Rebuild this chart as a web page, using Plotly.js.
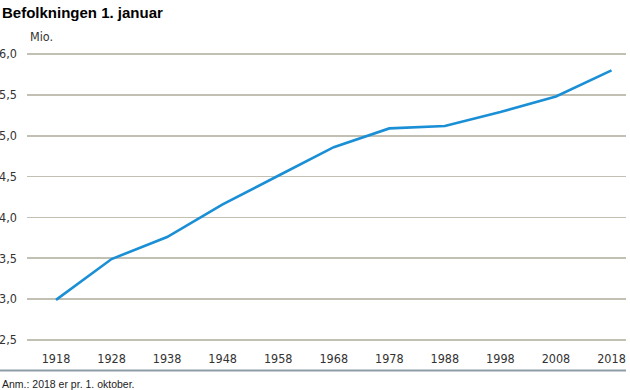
<!DOCTYPE html>
<html>
<head>
<meta charset="utf-8">
<script src="https://cdn.plot.ly/plotly-3.0.1.min.js"></script>
<style>html,body{margin:0;padding:0;background:#fff;}#chart{width:630px;height:390px;}</style>
</head>
<body>
<div id="chart"></div>
<script>
const years = [1918, 1928, 1938, 1948, 1958, 1968, 1978, 1988, 1998, 2008, 2018];
const population = [2.99, 3.49, 3.76, 4.16, 4.51, 4.86, 5.09, 5.12, 5.29, 5.48, 5.80];
const yTicks = [2.5, 3.0, 3.5, 4.0, 4.5, 5.0, 5.5, 6.0];
const titleText = 'Befolkningen 1. januar';
const unitText = 'Mio.';
const noteText = 'Anm.: 2018 er pr. 1. oktober.';

const narrow = '"Liberation Sans Narrow", "Arial Narrow", "DejaVu Sans Condensed", sans-serif';

const trace = {
  x: years, y: population, type: 'scatter', mode: 'lines',
  line: {color: '#1a8fd6', width: 2.6},
  hoverinfo: 'skip'
};

const layout = {
  width: 630, height: 390,
  margin: {l: 27, r: 4, t: 50, b: 46},
  paper_bgcolor: '#ffffff', plot_bgcolor: '#ffffff',
  separators: ',.',
  showlegend: false,
  xaxis: {
    range: [1912.78, 2020.61],
    tickmode: 'array', tickvals: years, ticktext: years.map(String),
    showgrid: false, zeroline: false, showline: false, ticks: '',
    tickfont: {family: narrow, size: 12.5, color: '#333'},
    ticklabelstandoff: 5
  },
  yaxis: {
    range: [2.45, 6.05],
    tickmode: 'array', tickvals: yTicks, tickformat: '.1f',
    showgrid: true, gridcolor: '#c2bfb3', gridwidth: 1.6,
    zeroline: false, showline: false, ticks: '',
    tickfont: {family: narrow, size: 12.5, color: '#333'},
    ticklabelstandoff: 9
  },
  annotations: [
    {text: '<b>' + titleText + '</b>', xref: 'paper', yref: 'paper', x: -27 / 599, y: 1 + 37 / 294,
     xanchor: 'left', yanchor: 'middle', showarrow: false,
     font: {family: '"Liberation Sans", Arial, sans-serif', size: 15, color: '#000'}},
    {text: unitText, xref: 'paper', yref: 'paper', x: 1 / 599, y: 1 + 13.5 / 294,
     xanchor: 'left', yanchor: 'middle', showarrow: false,
     font: {family: narrow, size: 12.5, color: '#333'}},
    {text: noteText, xref: 'paper', yref: 'paper', x: -27 / 599, y: -39.5 / 294,
     xanchor: 'left', yanchor: 'middle', showarrow: false,
     font: {family: '"Liberation Sans", Arial, sans-serif', size: 10.5, color: '#222'}}
  ],
  shapes: [
    {type: 'line', xref: 'paper', yref: 'paper', x0: -27 / 599, x1: 1, y0: -26.5 / 294, y1: -26.5 / 294,
     line: {color: '#8d9ea8', width: 2}}
  ]
};

Plotly.newPlot('chart', [trace], layout, {staticPlot: true, displayModeBar: false});
</script>
</body>
</html>
